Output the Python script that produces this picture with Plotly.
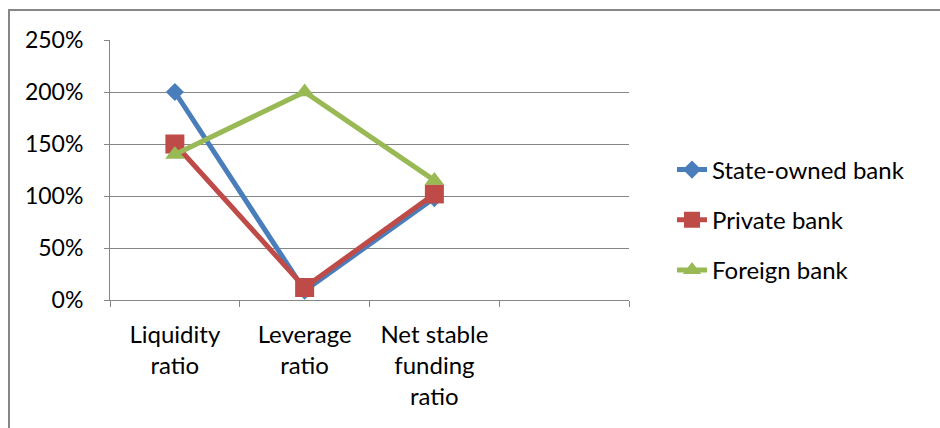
import plotly.graph_objects as go

categories = ["Liquidity<br>ratio", "Leverage<br>ratio", "Net stable<br>funding<br>ratio"]
axis_slots = categories + [" "]
state_owned = [2.00, 0.09, 0.98]
private = [1.50, 0.12, 1.02]
foreign = [1.40, 2.00, 1.15]
y_ticks = [0, 0.5, 1.0, 1.5, 2.0, 2.5]

FONT = "Lato"
GRID = "#868686"

fig = go.Figure()
fig.add_trace(go.Scatter(x=categories, y=state_owned, name="State-owned bank",
                         mode="lines+markers", legendgroup="a",
                         line=dict(color="#4A7EBB", width=5),
                         marker=dict(symbol="diamond", size=14, color="#4A7EBB")))
fig.add_trace(go.Scatter(x=categories, y=private, name="Private bank",
                         mode="lines+markers", legendgroup="b",
                         line=dict(color="#BE4B48", width=5),
                         marker=dict(symbol="square", size=19, color="#BE4B48")))
fig.add_trace(go.Scatter(x=categories, y=foreign, name="Foreign bank",
                         mode="lines+markers", legendgroup="c",
                         line=dict(color="#98B954", width=5),
                         marker=dict(symbol="triangle-up", size=17, color="#98B954")))

fig.update_layout(
    width=940, height=428,
    margin=dict(l=110, r=311, t=40, b=128),
    paper_bgcolor="white", plot_bgcolor="white",
    font=dict(family=FONT, size=24, color="black"),
    showlegend=True,
    legend=dict(x=(672 - 110) / 519, y=(300 - 220) / 260, xanchor="left", yanchor="middle",
                font=dict(family=FONT, size=24, color="black"),
                tracegroupgap=16, bgcolor="rgba(0,0,0,0)"),
    xaxis=dict(type="category", categoryorder="array", categoryarray=axis_slots,
               range=[-0.5, 3.5], tickson="boundaries", ticks="outside", ticklen=6,
               tickcolor=GRID, tickwidth=1, showgrid=False, showline=True,
               linecolor=GRID, linewidth=1, zeroline=False, ticklabelstandoff=13,
               tickfont=dict(family=FONT, size=24)),
    yaxis=dict(range=[0, 2.5], tickvals=y_ticks, tickformat=".0%",
               ticks="outside", ticklen=5, tickcolor=GRID, tickwidth=1,
               showgrid=True, gridcolor=GRID, gridwidth=1,
               showline=True, linecolor=GRID, linewidth=1, zeroline=False,
               ticklabelstandoff=16, tickfont=dict(family=FONT, size=23)),
    shapes=[dict(type="rect", xref="paper", yref="paper",
                 x0=(9 - 110) / 519, x1=(960 - 110) / 519,
                 y0=(300 - 460) / 260, y1=1 + 30 / 260,
                 line=dict(color=GRID, width=2), fillcolor="rgba(0,0,0,0)", layer="below")],
)

fig.write_html("out.html")
